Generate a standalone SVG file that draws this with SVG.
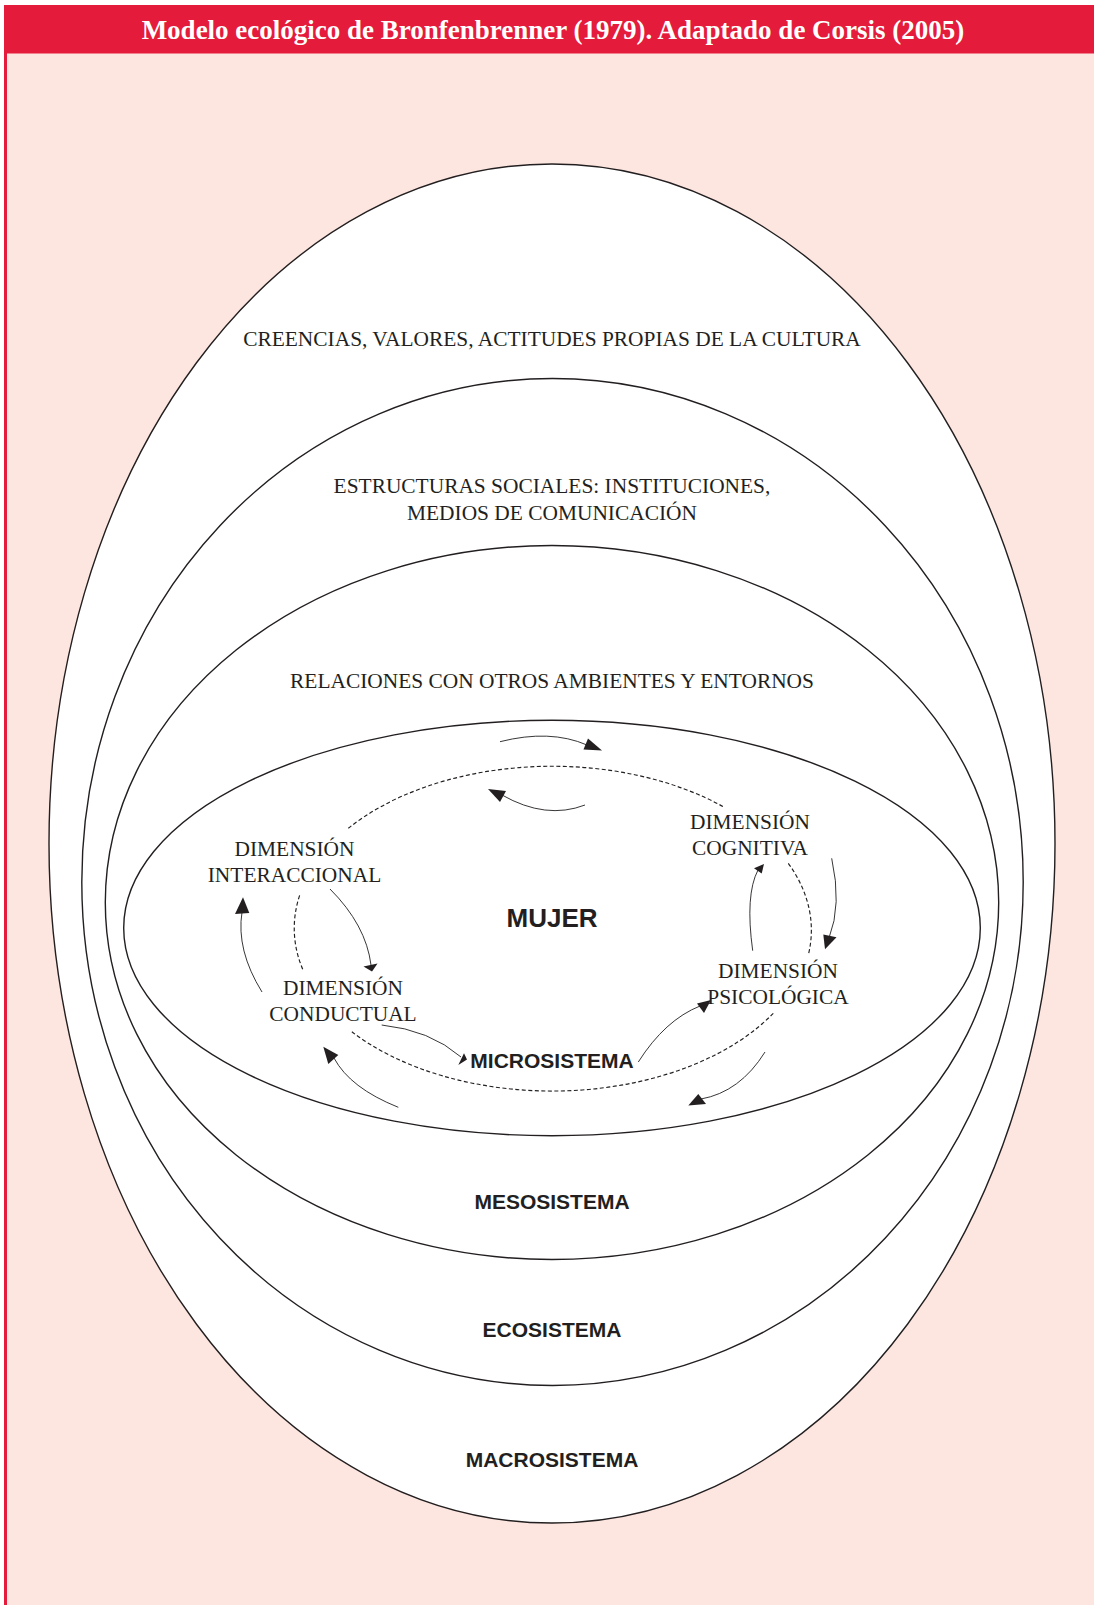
<svg xmlns="http://www.w3.org/2000/svg" width="1094" height="1605" viewBox="0 0 1094 1605">
<style>
.ring{fill:#FFFFFF;stroke:#231F20;stroke-width:1.4}
.dash{fill:none;stroke:#231F20;stroke-width:1.15;stroke-dasharray:4 2.5}
.arr{fill:none;stroke:#231F20;stroke-width:0.9}
.head{fill:#231F20;stroke:none}
.serif{font-family:"Liberation Serif","Times New Roman",serif;font-size:21.4px;fill:#231F20;text-anchor:middle}
.sans{font-family:"Liberation Sans",Arial,sans-serif;font-weight:bold;font-size:21px;fill:#231F20;text-anchor:middle}
</style>
<rect x="0" y="0" width="1094" height="1605" fill="#FFFFFF"/>
<rect x="4" y="5" width="1090" height="1600" fill="#FDE6E0"/>
<rect x="4" y="5" width="1090" height="48.5" fill="#E41B3B"/>
<rect x="4" y="5" width="3" height="1600" fill="#E41B3B"/>
<text x="553" y="39" font-family="'Liberation Serif','Times New Roman',serif" font-weight="bold" font-size="27" fill="#FFFFFF" text-anchor="middle">Modelo ecológico de Bronfenbrenner (1979). Adaptado de Corsis (2005)</text>

<g id="macrosistema">
<ellipse class="ring" cx="552" cy="843.5" rx="503" ry="679.5"/>
<text class="serif" x="552" y="346">CREENCIAS, VALORES, ACTITUDES PROPIAS DE LA CULTURA</text>
<text class="sans" x="552" y="1466.5">MACROSISTEMA</text>
</g>
<g id="ecosistema">
<ellipse class="ring" cx="552.5" cy="882" rx="470.7" ry="503.5"/>
<text class="serif" x="552" y="493">ESTRUCTURAS SOCIALES: INSTITUCIONES,</text>
<text class="serif" x="552" y="520">MEDIOS DE COMUNICACIÓN</text>
<text class="sans" x="552" y="1336.5">ECOSISTEMA</text>
</g>
<g id="mesosistema">
<ellipse class="ring" cx="552" cy="902.5" rx="446.7" ry="357"/>
<text class="serif" x="552" y="687.5">RELACIONES CON OTROS AMBIENTES Y ENTORNOS</text>
<text class="sans" x="552" y="1208.5">MESOSISTEMA</text>
</g>
<g id="microsistema">
<ellipse class="ring" cx="552" cy="928" rx="428.3" ry="207.7"/>
<text class="sans" x="552" y="1068">MICROSISTEMA</text>
</g>
<g id="mujer">
<text x="552" y="927" font-family="'Liberation Sans',Arial,sans-serif" font-weight="bold" font-size="26" fill="#231F20" text-anchor="middle">MUJER</text>
</g>
<g id="dim-interaccional">
<text class="serif" x="294.5" y="856">DIMENSIÓN</text>
<text class="serif" x="294.5" y="882">INTERACCIONAL</text>
</g>
<g id="dim-conductual">
<text class="serif" x="343" y="995">DIMENSIÓN</text>
<text class="serif" x="343" y="1021">CONDUCTUAL</text>
</g>
<g id="dim-cognitiva">
<text class="serif" x="750" y="829">DIMENSIÓN</text>
<text class="serif" x="750" y="855">COGNITIVA</text>
</g>
<g id="dim-psicologica">
<text class="serif" x="778" y="978">DIMENSIÓN</text>
<text class="serif" x="778" y="1004">PSICOLÓGICA</text>
</g>

<g id="connectors">
<path class="dash" d="M348.3,828.3 A259,162 0 0,1 723.3,806.7"/>
<path class="dash" d="M788.3,863.3 A259,162 0 0,1 808.3,955"/>
<path class="dash" d="M773.3,1013.3 A259,162 0 0,1 351.7,1031.7"/>
<path class="dash" d="M302.7,969.3 A259,162 0 0,1 300,894.3"/>

<path class="arr" d="M500,741.7 Q550,729 587,745"/>
<polygon class="head" points="602,750.5 588,738.5 583.5,749.5"/>

<path class="arr" d="M585,805 Q546,820 502,795"/>
<polygon class="head" points="488,789 506,791 500,802"/>

<path class="arr" d="M330,889 Q366,925 371,965"/>
<polygon class="head" points="363.5,966.5 377.5,963.5 372,971.5"/>

<path class="arr" d="M262,992 Q236,950 242,912"/>
<polygon class="head" points="243,897.3 235,914 249.3,913"/>

<path class="arr" d="M381.7,1025 Q430,1030 461,1057"/>
<polygon class="head" points="458.3,1065 464,1053.3 467,1059.5"/>

<path class="arr" d="M398.3,1107.3 Q350,1088 334,1058"/>
<polygon class="head" points="323.3,1046.7 338.3,1055 328.3,1064"/>

<path class="arr" d="M638.3,1062 Q665,1020 700,1006"/>
<polygon class="head" points="711,1000 697,1003.5 704,1013"/>

<path class="arr" d="M765,1052 Q740,1092 701,1099"/>
<polygon class="head" points="688.3,1105.5 698.3,1094 706,1104"/>

<path class="arr" d="M831.7,858.3 Q842,905 829,938"/>
<polygon class="head" points="825,949.3 823.3,934.5 836.5,937.3"/>

<path class="arr" d="M752.7,950.7 Q745,895 758,870"/>
<polygon class="head" points="764,864 754,868.3 761.7,873.5"/>
</g>
</svg>
